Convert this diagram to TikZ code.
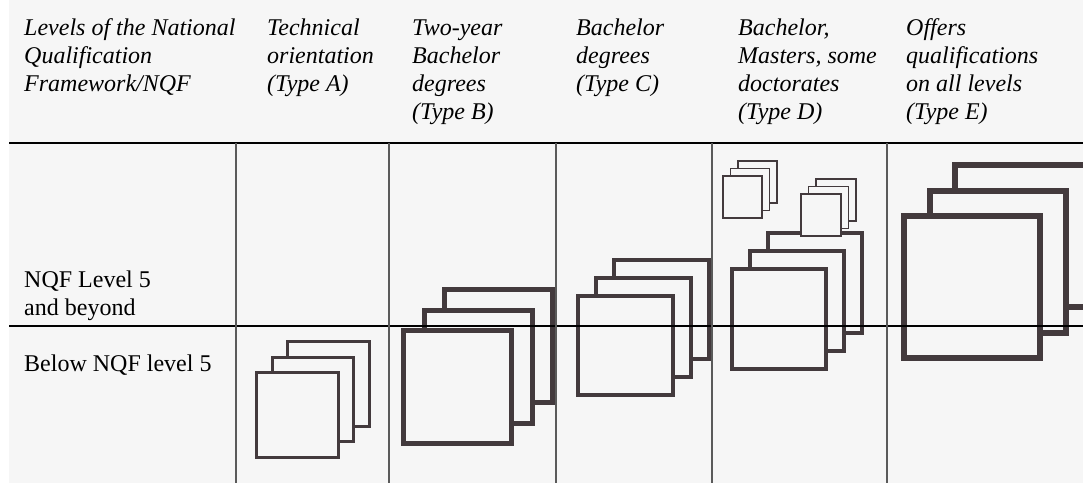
\documentclass[tikz,border=0pt]{standalone}
\usepackage{fontspec}
\setmainfont{Liberation Serif}
\definecolor{bgcol}{HTML}{F6F6F6}
\definecolor{boxcol}{HTML}{433A3D}
\definecolor{rulecol}{HTML}{5A5A5A}
\tikzset{
  head/.style={anchor=north west, align=left, inner sep=0pt, font=\itshape\fontsize{24}{28}\selectfont},
  rowlabel/.style={anchor=north west, align=left, inner sep=0pt, font=\fontsize{24}{28}\selectfont},
  qbox/.style={draw=boxcol, fill=bgcol},
  hrule/.style={black, line width=1.3pt},
  vrule/.style={rulecol, line width=1.3pt}
}
% one stack of three qualification cards: front corners, offset, stroke
\newcommand{\qstack}[6]{%
  \foreach \k in {2,1,0}
    \draw[qbox, line width=#6] ({#1+\k*#5},{#2-\k*#5}) rectangle ({#3+\k*#5},{#4-\k*#5});}

\begin{document}
\begin{tikzpicture}[x=1pt, y=-1pt]
\useasboundingbox (0,0) rectangle (1083,483);
\clip (0,0) rectangle (1083,483);
\fill[bgcol] (9,0) rectangle (1083,483);

% header
\node[head] (nqf) at (24,18.6) {Levels of the National\\Qualification\\Framework/NQF};
\node[head] (typeA) at (267,18.6) {Technical\\orientation\\(Type A)};
\node[head] (typeB) at (412,19.1) {Two-year\\Bachelor\\degrees\\(Type B)};
\node[head] (typeC) at (576,18.6) {Bachelor\\degrees\\(Type C)};
\node[head] (typeD) at (738,18.6) {Bachelor,\\Masters, some\\doctorates\\(Type D)};
\node[head] (typeE) at (906,18.6) {Offers\\qualifications\\on all levels\\(Type E)};

% row labels
\node[rowlabel] (upper) at (24,270.6) {NQF Level 5\\and beyond};
\node[rowlabel] (lower) at (24,354.6) {Below NQF level 5};

% card stacks
\qstack{256.7}{372.7}{338.3}{457.3}{15.5}{3.3pt}
\qstack{403.5}{330.5}{511.5}{443.5}{20.5}{5pt}
\qstack{578.2}{296.2}{672.8}{394.8}{18}{4.5pt}
\qstack{732}{269}{826}{369}{18}{4pt}
\qstack{723}{176}{762}{218}{7.5}{1.7pt}
\qstack{801}{194}{841}{236}{7.5}{1.7pt}
\qstack{904}{216}{1040}{358}{25.5}{6pt}

% table rules
\coordinate (headL) at (9,143); \coordinate (headR) at (1083,143);
\coordinate (midL) at (9,326); \coordinate (midR) at (1083,326);
\draw[hrule] (headL) -- (headR); \draw[hrule] (midL) -- (midR);
\foreach \x in {236,389,556,712,887}
  \draw[vrule] (\x,143) -- (\x,483);
\end{tikzpicture}
\end{document}
